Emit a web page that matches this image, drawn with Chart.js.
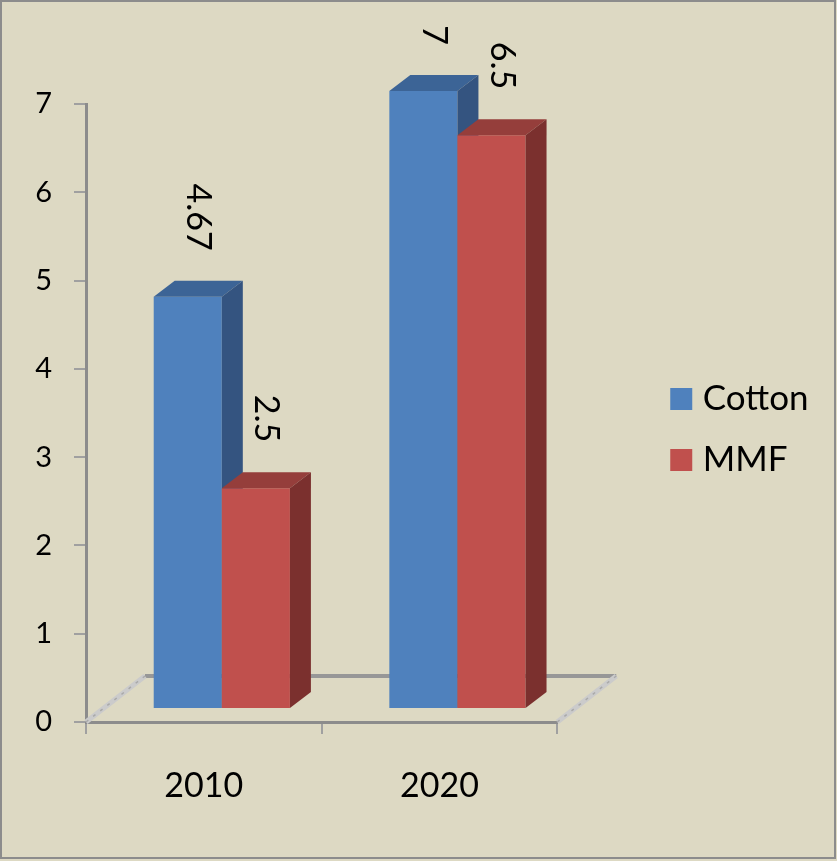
<!DOCTYPE html>
<html>
<head>
<meta charset="utf-8">
<title>Cotton vs MMF</title>
<script src="https://cdn.jsdelivr.net/npm/chart.js@4.4.1/dist/chart.umd.min.js"></script>
<style>
  html, body { margin: 0; padding: 0; background: #ddd9c3; }
  canvas { display: block; }
</style>
</head>
<body>
<canvas id="fibreChart" width="837" height="861"></canvas>
<script>
const years = ['2010', '2020'];
const seriesNames = ['Cotton', 'MMF'];
const cottonValues = [4.67, 7];
const mmfValues = [2.5, 6.5];
const yTickValues = [0, 1, 2, 3, 4, 5, 6, 7];

const frontColors = ['#4f81bd', '#c0504d'];
const topColors = ['#3c6496', '#953e3b'];
const sideColors = ['#345480', '#7b302e'];

// fake 3D: depth of the floor, where the bar fronts sit in it, depth of a bar
const floorDepth = { x: 59, y: -46 };
const barShift = { x: 18, y: -13 };
const barDepth = { x: 21, y: -16 };

Chart.defaults.font.family = 'Lato';
Chart.defaults.color = '#000';

function drawFloor(chart) {
  const ctx = chart.ctx;
  const left = chart.scales.x.left;
  const right = chart.scales.x.right;
  const base = chart.scales.y.getPixelForValue(0);
  ctx.save();
  ctx.lineCap = 'butt';
  ctx.strokeStyle = '#979797';
  ctx.lineWidth = 4;
  ctx.beginPath();
  ctx.moveTo(left + floorDepth.x, base + floorDepth.y);
  ctx.lineTo(right + floorDepth.x, base + floorDepth.y);
  ctx.stroke();

  [left, right].forEach(x => {
    ctx.strokeStyle = '#cbcbcb';
    ctx.lineWidth = 5;
    ctx.setLineDash([]);
    ctx.beginPath();
    ctx.moveTo(x, base);
    ctx.lineTo(x + floorDepth.x, base + floorDepth.y);
    ctx.stroke();
    ctx.strokeStyle = '#a9a9a9';
    ctx.lineWidth = 1.5;
    ctx.setLineDash([3, 6]);
    ctx.stroke();
  });
  ctx.restore();
}

function drawFaces(ctx, bar, d) {
  const left = bar.x - bar.width / 2;
  const right = bar.x + bar.width / 2;
  const top = bar.y;
  const base = bar.base;

  ctx.fillStyle = topColors[d];
  ctx.beginPath();
  ctx.moveTo(left, top);
  ctx.lineTo(left + barDepth.x, top + barDepth.y);
  ctx.lineTo(right + barDepth.x, top + barDepth.y);
  ctx.lineTo(right, top);
  ctx.closePath();
  ctx.fill();

  ctx.fillStyle = sideColors[d];
  ctx.beginPath();
  ctx.moveTo(right, top);
  ctx.lineTo(right + barDepth.x, top + barDepth.y);
  ctx.lineTo(right + barDepth.x, base + barDepth.y);
  ctx.lineTo(right, base);
  ctx.closePath();
  ctx.fill();
}

function drawValueLabel(ctx, bar, value) {
  ctx.save();
  ctx.translate(bar.x + barDepth.x / 2, bar.y + barDepth.y - 30);
  ctx.rotate(Math.PI / 2);
  ctx.font = '34px Lato';
  ctx.fillStyle = '#000';
  ctx.textAlign = 'right';
  ctx.textBaseline = 'middle';
  ctx.fillText(String(value), 0, 0);
  ctx.restore();
}

const bars3d = {
  id: 'bars3d',
  beforeDraw(chart) {
    const ctx = chart.ctx;
    ctx.save();
    ctx.fillStyle = '#ddd9c3';
    ctx.fillRect(0, 0, chart.width, chart.height);
    ctx.restore();
  },
  beforeDatasetsDraw(chart) {
    const ctx = chart.ctx;
    drawFloor(chart);
    ctx.save();
    ctx.translate(barShift.x, barShift.y);
    // per year, left bar first so the right one covers its side face
    years.forEach((_, i) => {
      chart.data.datasets.forEach((ds, d) => {
        const bar = chart.getDatasetMeta(d).data[i];
        bar.draw(ctx);
        drawFaces(ctx, bar, d);
      });
    });
    chart.data.datasets.forEach((ds, d) => {
      chart.getDatasetMeta(d).data.forEach((bar, i) => drawValueLabel(ctx, bar, ds.data[i]));
    });
    ctx.restore();
    return false;
  },
  afterDraw(chart) {
    const ctx = chart.ctx;
    ctx.save();
    ctx.strokeStyle = '#8c8c8c';
    ctx.lineWidth = 2;
    ctx.strokeRect(1, 1, chart.width - 3, chart.height - 4);
    ctx.restore();
  }
};

new Chart(document.getElementById('fibreChart'), {
  type: 'bar',
  data: {
    labels: years,
    datasets: [
      { label: seriesNames[0], data: cottonValues, backgroundColor: frontColors[0] },
      { label: seriesNames[1], data: mmfValues, backgroundColor: frontColors[1] }
    ]
  },
  options: {
    responsive: false,
    animation: false,
    devicePixelRatio: 1,
    datasets: {
      bar: { borderWidth: 0, categoryPercentage: 0.578, barPercentage: 1, clip: false }
    },
    layout: { padding: { top: 104, right: 18.5, bottom: 0, left: 0 } },
    plugins: {
      tooltip: { enabled: false },
      legend: {
        position: 'right',
        fullSize: false,
        maxWidth: 320,
        // empty title only pushes the two entries a little below centre
        title: { display: true, text: '', font: { size: 12 }, padding: { top: 18.6, bottom: 0 } },
        labels: {
          font: { size: 35 },
          color: '#000',
          usePointStyle: true,
          pointStyle: 'rect',
          boxWidth: 8,
          boxHeight: 22,
          padding: 26
        }
      }
    },
    scales: {
      x: {
        offset: true,
        grid: { offset: true, drawOnChartArea: false, tickLength: 12, color: '#a0a0a0', lineWidth: 2 },
        border: { color: '#8c8c8c', width: 3 },
        ticks: { font: { size: 34 }, padding: 32 },
        afterFit(s) { s.height = 139; }
      },
      y: {
        min: 0,
        max: 7,
        afterBuildTicks(s) { s.ticks = yTickValues.map(v => ({ value: v })); },
        grid: { drawOnChartArea: false, tickLength: 12, color: '#a0a0a0', lineWidth: 2 },
        border: { color: '#8c8c8c', width: 3 },
        ticks: { font: { size: 29 }, padding: 22 },
        afterFit(s) { s.width = 86; }
      },
      spacer: {
        type: 'linear',
        position: 'right',
        grid: { display: false },
        border: { display: false },
        ticks: { display: false },
        afterFit(s) { s.width = 94; }
      }
    }
  },
  plugins: [bars3d]
});
</script>
</body>
</html>
